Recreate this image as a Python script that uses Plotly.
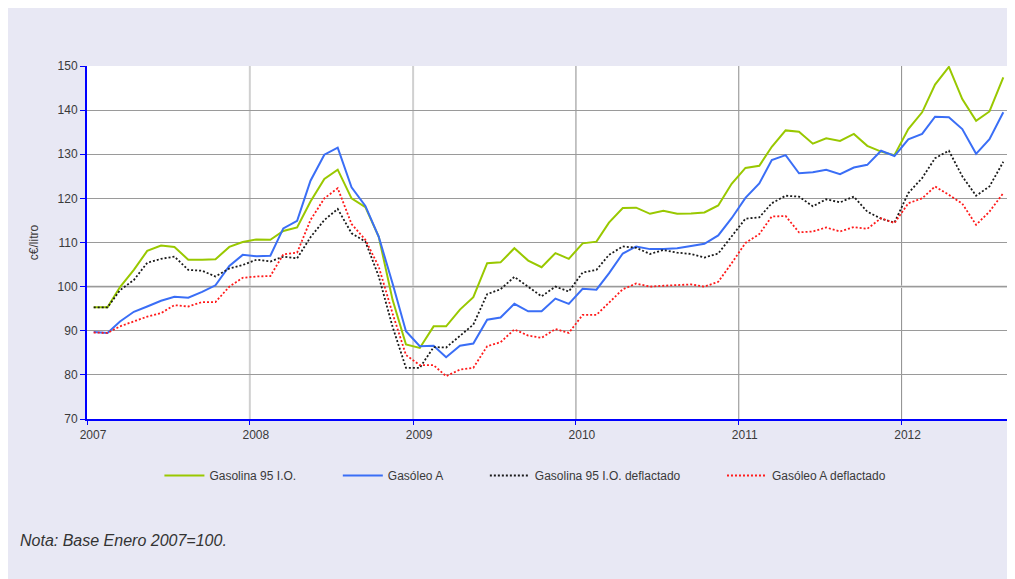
import pandas as pd
import plotly.graph_objects as go

# mensual, enero 2007 - agosto 2012 (base enero 2007 = 100)
meses = pd.date_range("2007-01-01", periods=68, freq="MS") + pd.Timedelta(days=15)

gasolina_95 = [
    95.3, 95.3, 99.9, 103.8, 108.1, 109.3, 109.0, 106.1, 106.1, 106.2, 109.0, 110.1,
    110.7, 110.6, 112.6, 113.4, 119.3, 124.4, 126.5, 120.0, 118.0, 111.3, 97.0, 86.9,
    86.1, 91.0, 91.0, 94.8, 97.6, 105.3, 105.5, 108.7, 105.9, 104.4, 107.6, 106.3,
    109.8, 110.2, 114.5, 117.8, 117.9, 116.5, 117.2, 116.5, 116.6, 116.8, 118.4, 123.3,
    126.9, 127.4, 131.7, 135.4, 135.1, 132.4, 133.6, 133.0, 134.6, 131.9, 130.6, 129.8,
    135.7, 139.5, 145.8, 149.8, 142.5, 137.6, 139.7, 147.4,
]
gasoleo_a = [
    89.7, 89.5, 92.1, 94.3, 95.5, 96.8, 97.7, 97.5, 98.8, 100.3, 104.7, 107.2,
    106.9, 107.0, 113.2, 114.9, 124.0, 129.9, 131.5, 122.5, 118.3, 111.3, 100.7, 89.9,
    86.5, 86.6, 84.0, 86.6, 87.1, 92.5, 93.0, 96.1, 94.4, 94.4, 97.3, 96.1,
    99.5, 99.3, 103.0, 107.5, 109.1, 108.5, 108.5, 108.7, 109.2, 109.7, 111.6, 115.5,
    120.1, 123.4, 128.7, 129.8, 125.7, 125.9, 126.5, 125.5, 127.0, 127.6, 130.8, 129.6,
    133.4, 134.6, 138.5, 138.4, 135.7, 130.1, 133.4, 139.5,
]
gasolina_95_defl = [
    95.3, 95.3, 99.2, 101.5, 105.4, 106.3, 106.8, 103.8, 103.6, 102.3, 104.1, 104.9,
    106.1, 105.7, 106.8, 106.4, 111.2, 115.1, 117.6, 112.1, 110.2, 102.3, 90.9, 81.6,
    81.6, 86.3, 86.2, 88.8, 91.4, 98.3, 99.4, 102.2, 99.9, 97.8, 100.0, 98.9,
    103.2, 103.8, 107.2, 109.1, 108.8, 107.4, 108.3, 107.7, 107.4, 106.6, 107.5, 111.3,
    115.4, 115.7, 118.9, 120.6, 120.4, 118.2, 119.8, 119.1, 120.4, 117.0, 115.4, 114.5,
    121.2, 124.6, 129.1, 130.8, 125.0, 120.6, 122.7, 128.3,
]
gasoleo_a_defl = [
    89.6, 89.5, 91.0, 92.2, 93.2, 94.0, 95.8, 95.5, 96.5, 96.5, 100.0, 102.0,
    102.3, 102.4, 107.3, 107.7, 115.1, 120.0, 122.3, 114.2, 110.6, 104.5, 93.9, 84.5,
    82.2, 82.2, 79.7, 81.2, 81.6, 86.5, 87.4, 90.3, 88.9, 88.4, 90.4, 89.5,
    93.6, 93.6, 96.4, 99.4, 100.7, 100.0, 100.2, 100.4, 100.5, 100.0, 101.1, 105.3,
    109.9, 111.9, 115.9, 116.0, 112.3, 112.5, 113.4, 112.5, 113.5, 113.1, 115.5, 114.4,
    118.9, 120.0, 122.7, 120.8, 118.8, 114.0, 117.0, 121.2,
]

anios = ["2007", "2008", "2009", "2010", "2011", "2012"]
yticks = [70, 80, 90, 100, 110, 120, 130, 140, 150]

FONT = "Liberation Sans Narrow, Liberation Sans, Arial, sans-serif"

fig = go.Figure()

series = [
    ("Gasolina 95 I.O.", gasolina_95, "#99c800", "solid", 2),
    ("Gasóleo A", gasoleo_a, "#3a6ef6", "solid", 2),
    ("Gasolina 95 I.O. deflactado", gasolina_95_defl, "#1a1a1a", "2px,2px", 1.8),
    ("Gasóleo A deflactado", gasoleo_a_defl, "#ff1a1a", "2px,2px", 1.8),
]
pad = ["\u00a0" * 11, "\u00a0" * 11, "\u00a0" * 11, ""]
for (name, vals, color, dash, w), p in zip(series, pad):
    fig.add_trace(go.Scatter(
        x=meses, y=vals, name=name + p, mode="lines",
        line=dict(color=color, width=w, dash=dash),
        hovertemplate=name + ": %{y:.1f}<extra></extra>",
    ))

# lineas verticales de cada año (las dos primeras mas claras, como en el original)
grid_anio = ["#a0a0a0", "#d0d0d0", "#d0d0d0", "#8c8c8c", "#8c8c8c", "#8c8c8c"]
for a, c in zip(anios[1:], grid_anio[1:]):
    fig.add_shape(type="line", xref="x", yref="paper", x0=a + "-01-01", x1=a + "-01-01",
                  y0=0, y1=1, line=dict(color=c, width=2 if c == "#d0d0d0" else 1),
                  layer="between")
# linea de 100 mas clara
fig.add_shape(type="line", xref="paper", yref="y", x0=0, x1=1, y0=100, y1=100,
              line=dict(color="#d2d2d2", width=2.5), layer="between")

fig.add_annotation(
    text="<i>Nota: Base Enero 2007=100.</i>", xref="paper", yref="paper",
    x=-0.075, y=-0.345, xanchor="left", yanchor="middle", showarrow=False,
    font=dict(family="Liberation Sans, Arial, sans-serif", size=16, color="#333333"),
)

fig.update_layout(
    width=1007, height=571,
    margin=dict(l=79, r=5, t=58, b=160),
    paper_bgcolor="#e8e8f4",
    plot_bgcolor="white",
    font=dict(family=FONT, size=12, color="#3a3a3a"),
    showlegend=True,
    hovermode="x unified",
    legend=dict(
        orientation="h", x=0.475, xanchor="center", y=-0.16, yanchor="middle",
        bgcolor="rgba(0,0,0,0)", font=dict(family=FONT, size=12, color="#3a3a3a"),
        itemwidth=40,
    ),
    xaxis=dict(
        type="date",
        range=["2007-01-01", "2012-08-31"],
        tickvals=[a + "-01-01" for a in anios],
        ticktext=anios,
        ticklabelshift=6,
        showgrid=False,
        showline=True, linecolor="#0000ff", linewidth=2,
        ticks="outside", ticklen=4, tickcolor="#0000ff",
        zeroline=False,
    ),
    yaxis=dict(
        range=[70, 150],
        tickvals=yticks,
        showgrid=True, gridcolor="#9a9a9a", gridwidth=1,
        showline=True, linecolor="#0000ff", linewidth=2,
        ticks="outside", ticklen=5, tickcolor="#0000ff",
        title=dict(text="c€/litro", standoff=16, font=dict(size=12)),
        zeroline=False,
    ),
)

fig.write_html("out.html")
